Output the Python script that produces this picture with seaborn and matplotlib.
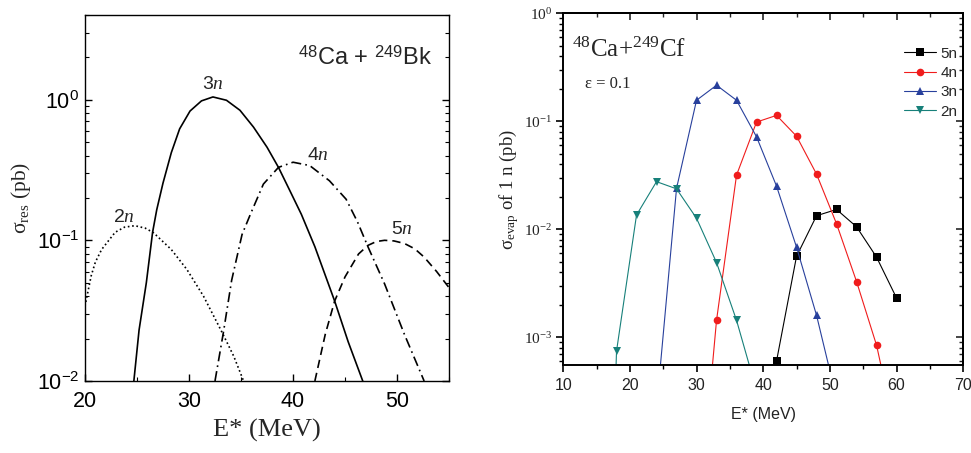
import matplotlib
matplotlib.use('Agg')
import matplotlib.pyplot as plt
from matplotlib.ticker import MultipleLocator, LogLocator, NullFormatter
from matplotlib.lines import Line2D
import seaborn as sns
import numpy as np
import pandas as pd

# left panel: sigma_res for 48Ca + 249Bk
e_2n = [20.0, 20.6, 21.0, 21.6, 22.9, 23.8, 24.8, 25.8, 26.6, 28.3, 29.8, 31.4, 33.2, 34.3, 35.2]
s_2n = [0.034, 0.056, 0.070, 0.086, 0.114, 0.124, 0.127, 0.122, 0.113, 0.086, 0.062, 0.040, 0.022, 0.015, 0.0102]
e_3n = [24.7, 25.2, 25.9, 26.5, 26.9, 27.5, 28.3, 29.1, 30.1, 31.2, 32.3, 33.6, 34.9, 36.2, 37.5,
        38.6, 39.7, 40.8, 42.1, 44.0, 45.3, 46.7]
s_3n = [0.010, 0.023, 0.050, 0.114, 0.165, 0.255, 0.42, 0.62, 0.83, 0.98, 1.045, 0.99, 0.84, 0.638, 0.459,
        0.33, 0.225, 0.153, 0.090, 0.037, 0.019, 0.010]
e_4n = [32.5, 33.3, 34.1, 35.1, 35.9, 37.15, 38.6, 40.0, 41.6, 43.5, 45.1, 46.2, 47.2, 48.8, 50.7, 52.6]
s_4n = [0.010, 0.022, 0.052, 0.110, 0.153, 0.251, 0.33, 0.359, 0.34, 0.265, 0.196, 0.135, 0.090, 0.049, 0.0215, 0.010]
e_5n = [42.1, 43.1, 44.0, 45.0, 46.3, 47.2, 48.0, 48.8, 49.7, 50.7, 51.7, 52.6, 53.8, 55.0]
s_5n = [0.010, 0.0215, 0.037, 0.055, 0.080, 0.092, 0.098, 0.100, 0.099, 0.095, 0.087, 0.076, 0.060, 0.046]

# right panel: sigma_evap for 48Ca + 249Cf (some points sit below the axis)
r_e_5n = [42, 45, 48, 51, 54, 57, 60]
r_s_5n = [6.0e-4, 5.6e-3, 1.33e-2, 1.52e-2, 1.05e-2, 5.5e-3, 2.3e-3]
r_e_4n = [30, 33, 36, 39, 42, 45, 48, 51, 54, 57, 60]
r_s_4n = [1.3e-5, 1.43e-3, 3.16e-2, 9.8e-2, 1.13e-1, 7.25e-2, 3.23e-2, 1.12e-2, 3.27e-3, 8.4e-4, 1.2e-4]
r_e_3n = [24, 27, 30, 33, 36, 39, 42, 45, 48, 51]
r_s_3n = [2.2e-4, 2.38e-2, 1.56e-1, 2.15e-1, 1.56e-1, 7.15e-2, 2.5e-2, 6.8e-3, 1.59e-3, 2.7e-4]
r_e_2n = [15, 18, 21, 24, 27, 30, 33, 36, 39]
r_s_2n = [1e-9, 7.4e-4, 1.35e-2, 2.75e-2, 2.36e-2, 1.26e-2, 4.9e-3, 1.43e-3, 3.2e-4]

channels = ['5n', '4n', '3n', '2n']

left = pd.concat([
    pd.DataFrame({'E': e_2n, 'sigma': s_2n, 'ch': '2n'}),
    pd.DataFrame({'E': e_3n, 'sigma': s_3n, 'ch': '3n'}),
    pd.DataFrame({'E': e_4n, 'sigma': s_4n, 'ch': '4n'}),
    pd.DataFrame({'E': e_5n, 'sigma': s_5n, 'ch': '5n'}),
], ignore_index=True)
right = pd.concat([
    pd.DataFrame({'E': r_e_5n, 'sigma': r_s_5n, 'ch': '5n'}),
    pd.DataFrame({'E': r_e_4n, 'sigma': r_s_4n, 'ch': '4n'}),
    pd.DataFrame({'E': r_e_3n, 'sigma': r_s_3n, 'ch': '3n'}),
    pd.DataFrame({'E': r_e_2n, 'sigma': r_s_2n, 'ch': '2n'}),
], ignore_index=True)

sns.set_style('ticks')
plt.rcParams['font.family'] = ['Liberation Sans', 'DejaVu Sans']
plt.rcParams['mathtext.fontset'] = 'custom'
plt.rcParams['mathtext.rm'] = 'Liberation Serif'
plt.rcParams['mathtext.it'] = 'Liberation Serif:italic'
plt.rcParams['axes.edgecolor'] = 'black'

serif = 'Liberation Serif'
fig = plt.figure(figsize=(9.71, 4.53), dpi=100)
ax1 = fig.add_axes([0.0875, 0.159, 0.375, 0.808])
ax2 = fig.add_axes([0.580, 0.194, 0.412, 0.777])

# ---- left panel
dash_map = {'2n': (1, 1.6), '3n': '', '4n': (6, 2.5, 1, 2.5), '5n': (5, 3)}
sns.lineplot(data=left, x='E', y='sigma', style='ch', dashes=dash_map, color='black',
             lw=1.2, estimator=None, sort=False, legend=False, ax=ax1)
ax1.set_yscale('log')
ax1.set_xlim(20, 55)
ax1.set_ylim(0.01, 4.0)
ax1.xaxis.set_major_locator(MultipleLocator(10))
ax1.xaxis.set_minor_locator(MultipleLocator(5))
ax1.yaxis.set_minor_locator(LogLocator(base=10, subs=np.arange(2, 10) * 1.0, numticks=20))
ax1.yaxis.set_minor_formatter(NullFormatter())
ax1.tick_params(which='both', direction='in', top=False, right=True, labelsize=15.5, colors='black')
ax1.tick_params(axis='x', pad=7)
ax1.tick_params(axis='y', pad=4)
ax1.tick_params(which='major', length=5, width=1)
ax1.tick_params(which='minor', length=3, width=0.8)
for sp in ax1.spines.values():
    sp.set_linewidth(1.0)
ax1.set_xlabel('E* (MeV)', fontfamily=serif, fontsize=19)
ax1.set_ylabel('σ$_{\\mathrm{res}}$ (pb)', fontfamily=serif, fontsize=15.5)
ax1.xaxis.set_label_coords(0.5, -0.105)
ax1.yaxis.set_label_coords(-0.143, 0.5)

ax1.text(32.3, 1.28, '3$n$', ha='center', va='center', fontsize=14)
ax1.text(23.7, 0.145, '2$n$', ha='center', va='center', fontsize=14)
ax1.text(42.4, 0.40, '4$n$', ha='center', va='center', fontsize=14)
ax1.text(50.45, 0.12, '5$n$', ha='center', va='center', fontsize=14)
ax1.text(0.953, 0.883, '$^{\\mathdefault{48}}$Ca + $^{\\mathdefault{249}}$Bk', transform=ax1.transAxes,
         ha='right', va='center', fontsize=17)

# ---- right panel
colors = {'5n': '#000000', '4n': '#f01c1c', '3n': '#28409c', '2n': '#17807a'}
markers = {'5n': 's', '4n': 'o', '3n': '^', '2n': 'v'}
sns.lineplot(data=right, x='E', y='sigma', hue='ch', style='ch', hue_order=channels,
             style_order=channels, palette=colors, markers=markers, dashes=False,
             lw=0.8, markersize=5.5, markeredgewidth=0, estimator=None, sort=False,
             legend=False, ax=ax2)
ax2.set_yscale('log')
ax2.set_xlim(10, 70)
ax2.set_ylim(5.5e-4, 1)
ax2.xaxis.set_major_locator(MultipleLocator(10))
ax2.xaxis.set_minor_locator(MultipleLocator(5))
ax2.yaxis.set_minor_locator(LogLocator(base=10, subs=np.arange(2, 10) * 1.0, numticks=20))
ax2.yaxis.set_minor_formatter(NullFormatter())
ax2.tick_params(which='both', direction='out', top=False, right=False, colors='black')
ax2.tick_params(axis='x', labelsize=11.5, pad=4, labelcolor='#222222')
ax2.tick_params(axis='y', labelsize=11, pad=3, labelcolor='#222222', labelfontfamily=serif)
ax2.tick_params(which='major', length=5, width=1.2)
ax2.tick_params(which='minor', length=3, width=1.0)
for sp in ax2.spines.values():
    sp.set_linewidth(1.4)

secx = ax2.secondary_xaxis('top')
secx.xaxis.set_major_locator(MultipleLocator(10))
secx.xaxis.set_minor_locator(MultipleLocator(5))
secx.xaxis.set_major_formatter(NullFormatter())
secx.tick_params(which='both', direction='in')
secx.tick_params(which='major', length=5, width=1.2)
secx.tick_params(which='minor', length=3, width=1.0)
secx.spines['top'].set_linewidth(1.4)
secy = ax2.secondary_yaxis('right')
secy.yaxis.set_major_locator(LogLocator(base=10, numticks=20))
secy.yaxis.set_minor_locator(LogLocator(base=10, subs=np.arange(2, 10) * 1.0, numticks=20))
secy.yaxis.set_major_formatter(NullFormatter())
secy.yaxis.set_minor_formatter(NullFormatter())
secy.tick_params(which='both', direction='in')
secy.tick_params(which='major', length=5, width=1.2)
secy.tick_params(which='minor', length=3, width=1.0)
secy.spines['right'].set_linewidth(1.4)

ax2.set_xlabel('E* (MeV)', fontsize=11.5, color='#222222')
ax2.set_ylabel('σ$_{\\mathrm{evap}}$ of 1 n (pb)', fontfamily=serif, fontsize=13.5, color='#222222')
ax2.xaxis.set_label_coords(0.5, -0.12)
ax2.yaxis.set_label_coords(-0.105, 0.5)
ax2.text(0.022, 0.895, '$^{\\mathdefault{48}}$Ca+$^{\\mathdefault{249}}$Cf', transform=ax2.transAxes,
         ha='left', va='center', fontsize=18, fontfamily=serif)
ax2.text(0.054, 0.80, 'ε = 0.1', transform=ax2.transAxes, ha='left', va='center',
         fontsize=12, fontfamily=serif)

handles = [Line2D([], [], color=colors[c], marker=markers[c], markersize=5.5,
                  markeredgewidth=0, lw=0.8) for c in channels]
ax2.legend(handles, channels, loc='upper right', bbox_to_anchor=(0.985, 0.905), frameon=False,
           fontsize=11, handlelength=2.1, handletextpad=0.25, labelspacing=0.35,
           borderaxespad=0, borderpad=0)

fig.savefig('out.png', dpi=100)
